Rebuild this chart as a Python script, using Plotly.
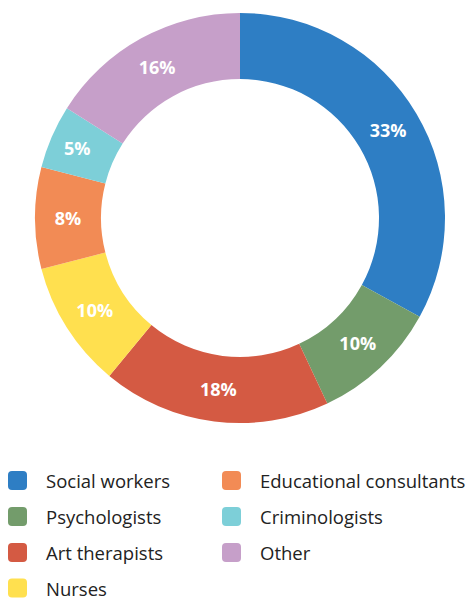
import plotly.graph_objects as go

labels = ["Social workers", "Psychologists", "Art therapists", "Nurses",
          "Educational consultants", "Criminologists", "Other"]
values = [33, 10, 18, 10, 8, 5, 16]
colors = ["#2E7EC4", "#739C6B", "#D45A43", "#FFE04F", "#F28B55", "#7DCFD8", "#C69FC9"]

W, H = 471, 601
cx, cy, R = 240, 218, 205

fig = go.Figure()
fig.add_trace(go.Pie(
    labels=labels, values=values, sort=False, direction="clockwise", rotation=0,
    hole=139 / 205,
    marker=dict(colors=colors, line=dict(width=0)),
    texttemplate="%{value}%", textposition="inside", insidetextorientation="horizontal",
    textfont=dict(family="Open Sans", size=18, color="white", weight="bold"),
    showlegend=False, hoverinfo="label+percent",
    domain=dict(x=[(cx - R) / W, (cx + R) / W], y=[1 - (cy + R) / H, 1 - (cy - R) / H]),
))

# custom two-column legend (column-major order)
col_x = [8, 222]
row_y = [480.5, 516.5, 552.5, 588]
shapes, annotations = [], []
s, r = 19, 4
path = (f"M {r},0 L {s-r},0 Q {s},0 {s},{r} L {s},{s-r} Q {s},{s} {s-r},{s} "
        f"L {r},{s} Q 0,{s} 0,{s-r} L 0,{r} Q 0,0 {r},0 Z")
for i, (lab, col) in enumerate(zip(labels, colors)):
    c = 0 if i < 4 else 1
    rr = i if i < 4 else i - 4
    x0 = col_x[c]
    yc = row_y[rr]
    shapes.append(dict(type="path", xref="paper", yref="paper", xsizemode="pixel", ysizemode="pixel",
                       xanchor=x0 / W, yanchor=1 - (yc + s / 2) / H, path=path,
                       fillcolor=col, line=dict(width=0)))
    annotations.append(dict(text=lab, xref="paper", yref="paper", x=(x0 + 37) / W, y=1 - yc / H,
                            xanchor="left", yanchor="middle", showarrow=False, borderpad=0,
                            font=dict(family="Open Sans", size=18.5, color="#222222")))

fig.update_layout(width=W, height=H, margin=dict(l=0, r=0, t=0, b=0),
                  paper_bgcolor="white", plot_bgcolor="white",
                  shapes=shapes, annotations=annotations)
fig.write_html("out.html", config={"displayModeBar": False},
               post_script="document.body.style.margin='0';document.body.style.overflow='hidden';")
